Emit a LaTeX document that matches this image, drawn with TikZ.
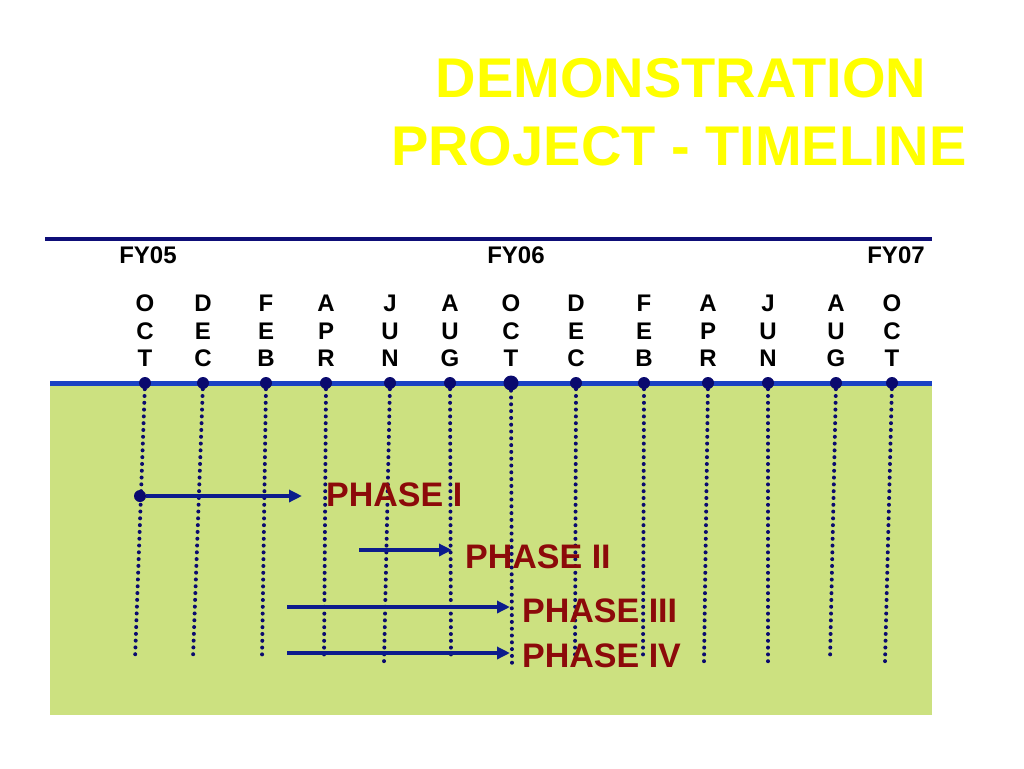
\documentclass[tikz,border=0pt]{standalone}
\usepackage{fontspec}
\setmainfont{Liberation Sans}
\usetikzlibrary{arrows.meta}
\definecolor{titleyellow}{RGB}{255,255,0}
\definecolor{fieldgreen}{RGB}{204,225,128}
\definecolor{navyline}{RGB}{14,14,120}
\definecolor{bluebar}{RGB}{26,66,196}
\definecolor{dotnavy}{RGB}{10,10,110}
\definecolor{arrownavy}{RGB}{12,28,140}
\definecolor{phasered}{RGB}{140,10,10}
\tikzset{
	title/.style={anchor=base,inner sep=0pt,text=titleyellow,font=\fontsize{56}{68}\selectfont\bfseries},
	fy/.style={anchor=base,inner sep=0pt,font=\fontsize{24}{28}\selectfont\bfseries},
	month/.style={anchor=base,inner sep=0pt,font=\fontsize{24}{28}\selectfont\bfseries},
	tick/.style={circle,fill=dotnavy,inner sep=0pt,minimum size=#1},
	tick/.default=12pt,
	vline/.style={dotnavy,line width=4pt,line cap=round,dash pattern=on 0pt off 6.8pt},
	phasearrow/.style={arrownavy,line width=3.6pt,-{Triangle[length=13pt,width=12pt]}},
	phase/.style={anchor=west,inner sep=0pt,text=phasered,font=\fontsize{34}{40}\selectfont\bfseries}
}
\begin{document}
\begin{tikzpicture}[x=1pt,y=-1pt]
	\useasboundingbox (0,0) rectangle (1024,768);
	\fill[fieldgreen] (50,383) rectangle (932,715);
	\draw[navyline,line width=3.5pt] (45,239)--(932,239);
	\draw[bluebar,line width=5pt] (50,383)--(932,383);
	% title
	\node[title] (t1) at (681,97) {DEMONSTRATION};
	\node[title] (t2) at (679,165) {PROJECT - TIMELINE};
	% fiscal years
	\node[fy] (fy05) at (148,263) {FY05};
	\node[fy] (fy06) at (516,263) {FY06};
	\node[fy] (fy07) at (896,263) {FY07};
	% months, ticks and dotted lines
	\foreach \i/\x/\xb/\yb/\s/\a/\b/\c in {1/145/135/660/12pt/O/C/T,2/203/193/658/12pt/D/E/C,3/266/262/660/12pt/F/E/B,4/326/324/661/12pt/A/P/R,5/390/384/662/12pt/J/U/N,6/450/451/660/12pt/A/U/G,7/511/512/665/15pt/O/C/T,8/576/575/660/12pt/D/E/C,9/644/643/661/12pt/F/E/B,10/708/704/662/12pt/A/P/R,11/768/768/665/12pt/J/U/N,12/836/830/661/12pt/A/U/G,13/892/885/662/12pt/O/C/T}{
		\node[month] (m\i a) at (\x,311) {\a};
		\node[month] (m\i b) at (\x,339) {\b};
		\node[month] (m\i c) at (\x,366) {\c};
		\node[tick=\s] (d\i) at (\x,383) {};
		\coordinate (e\i) at (\xb,\yb);
		\draw[vline] (d\i)--(e\i);
	}
	% phases
	\node[phase] (ph1) at (326,495) {PHASE I};
	\node[phase] (ph2) at (465,557) {PHASE II};
	\node[phase] (ph3) at (522,611) {PHASE III};
	\node[phase] (ph4) at (522,656) {PHASE IV};
	\node[tick] (s1) at (140,496) {};
	\coordinate (s2) at (359,550);
	\coordinate (s3) at (287,607);
	\coordinate (s4) at (287,653);
	\draw[phasearrow,shorten >=24pt] (s1)--(s1 -| ph1.west);
	\draw[phasearrow,shorten >=13pt] (s2)--(s2 -| ph2.west);
	\draw[phasearrow,shorten >=12pt] (s3)--(s3 -| ph3.west);
	\draw[phasearrow,shorten >=12pt] (s4)--(s4 -| ph4.west);
\end{tikzpicture}
\end{document}
